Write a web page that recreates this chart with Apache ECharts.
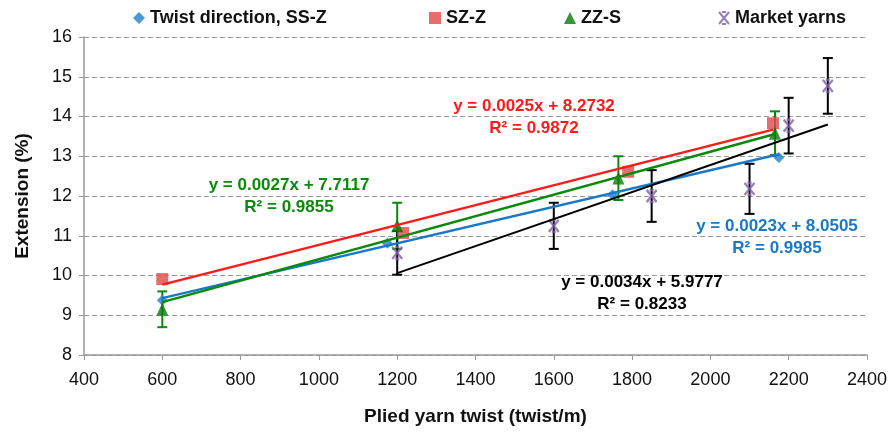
<!DOCTYPE html>
<html><head><meta charset="utf-8">
<script src="https://cdn.jsdelivr.net/npm/echarts@6/dist/echarts.min.js"></script>
<style>html,body{margin:0;padding:0;background:#fff}#c{width:890px;height:434px}</style>
</head><body><div id="c"></div>
<script>
// ---- data ----
const ssX = [600, 1175, 1750, 2175];
const ssY = [9.38, 10.81, 12.03, 12.97];
const szX = [600, 1215, 1790, 2160];
const szY = [9.91, 11.07, 12.61, 13.83];
const zzX = [600, 1200, 1765, 2165];
const zzY = [9.15, 11.25, 12.45, 13.58];
const zzErr = [0.45, 0.58, 0.55, 0.55];
const mX = [1200, 1600, 1850, 2100, 2200, 2300];
const mY = [10.57, 11.25, 12.0, 12.18, 13.77, 14.77];
const mErr = [0.55, 0.58, 0.65, 0.63, 0.7, 0.7];
// trendline endpoints [x0, y0, x1, y1]
const ssTrend = [600, 9.43, 2175, 13.05];
const szTrend = [600, 9.77, 2160, 13.67];
const zzTrend = [600, 9.33, 2165, 13.56];
const mTrend = [1200, 10.06, 2300, 13.80];
const seriesNames = ['Twist direction, SS-Z', 'SZ-Z', 'ZZ-S', 'Market yarns'];
const eqTexts = {
  sz: ['y = 0.0025x + 8.2732', 'R\u00b2 = 0.9872'],
  zz: ['y = 0.0027x + 7.7117', 'R\u00b2 = 0.9855'],
  ss: ['y = 0.0023x + 8.0505', 'R\u00b2 = 0.9985'],
  m:  ['y = 0.0034x + 5.9777', 'R\u00b2 = 0.8233']
};
const xMin = 400, xMax = 2400, xStep = 200;
const yMin = 8, yMax = 16, yStep = 1;

const FONT = '"Liberation Sans Narrow", "Liberation Sans", Arial, sans-serif';
const C = {blue:'#1a78c8', blueM:'#1f7fd0', red:'#ff1a1a', redM:'#e04848', green:'#0a8a0a', greenM:'#067a06', purple:'#7e5ea6', black:'#000'};

const zip = (xs, ys) => xs.map((x, i) => [x, ys[i]]);
const errData = (xs, ys, es) => xs.map((x, i) => [x, ys[i] - es[i], ys[i] + es[i]]);
const trend = t => [[t[0], t[1]], [t[2], t[3]]];

function errRender(color) {
  return function (params, api) {
    const lo = api.coord([api.value(0), api.value(1)]);
    const hi = api.coord([api.value(0), api.value(2)]);
    const w = 5;
    const st = {stroke: color, lineWidth: 2};
    return {type: 'group', children: [
      {type: 'line', shape: {x1: lo[0], y1: lo[1], x2: hi[0], y2: hi[1]}, style: st},
      {type: 'line', shape: {x1: lo[0] - w, y1: lo[1], x2: lo[0] + w, y2: lo[1]}, style: st},
      {type: 'line', shape: {x1: hi[0] - w, y1: hi[1], x2: hi[0] + w, y2: hi[1]}, style: st}
    ]};
  };
}

const xMarker = 'path://M0,0 L10,12 M10,0 L0,12 M3,0 L7,0 M3,12 L7,12';
const diamond = 'path://M5,0 L10,5 L5,10 L0,5 Z';

function eqGraphic(lines, cx, cy, color) {
  return lines.map((t, i) => ({
    type: 'text', x: cx, y: cy + i * 22, z: 100,
    style: {text: t, fill: color, font: 'bold 17px ' + FONT, textAlign: 'center', textVerticalAlign: 'middle'}
  }));
}

const legendLefts = [128, 424, 559, 713];
const legendText = {fontFamily: FONT, fontWeight: 'bold', fontSize: 18, color: '#111'};
const legends = seriesNames.map((n, i) => ({
  top: 4, left: legendLefts[i], itemWidth: 12, itemHeight: 12, itemGap: 4,
  data: [n], textStyle: legendText
}));

const chart = echarts.init(document.getElementById('c'), null, {renderer: 'canvas'});
chart.setOption({
  animation: false,
  backgroundColor: '#fff',
  grid: {left: 84, right: 23, top: 37, bottom: 79},
  legend: legends,
  xAxis: {
    type: 'value', min: xMin, max: xMax, interval: xStep,
    name: 'Plied yarn twist (twist/m)', nameLocation: 'middle', nameGap: 52,
    nameTextStyle: {fontFamily: FONT, fontWeight: 'bold', fontSize: 19, color: '#111'},
    axisLine: {lineStyle: {color: '#999', width: 1.5}},
    axisTick: {show: true, length: 5, lineStyle: {color: '#999'}},
    axisLabel: {fontFamily: FONT, fontSize: 18, color: '#111', margin: 16, formatter: v => String(v)},
    splitLine: {show: false}
  },
  yAxis: {
    type: 'value', min: yMin, max: yMax, interval: yStep,
    name: 'Extension (%)', nameLocation: 'middle', nameGap: 52, nameRotate: 90,
    nameTextStyle: {fontFamily: FONT, fontWeight: 'bold', fontSize: 19, color: '#111'},
    axisLine: {show: true, lineStyle: {color: '#999', width: 1.5}},
    axisTick: {show: true, length: 5, lineStyle: {color: '#999'}},
    axisLabel: {fontFamily: FONT, fontSize: 18, color: '#111', margin: 12},
    splitLine: {show: true, lineStyle: {color: '#9a9a9a', type: [5, 3], width: 1.2}}
  },
  series: [
    {name: seriesNames[0], type: 'scatter', data: zip(ssX, ssY), symbol: diamond, symbolSize: 11,
     itemStyle: {color: C.blueM}, z: 3},
    {name: seriesNames[1], type: 'scatter', data: zip(szX, szY), symbol: 'rect', symbolSize: 12,
     itemStyle: {color: C.redM}, z: 3},
    {name: seriesNames[2], type: 'scatter', data: zip(zzX, zzY), symbol: 'triangle', symbolSize: [12, 13],
     itemStyle: {color: C.greenM}, z: 4},
    {name: seriesNames[3], type: 'scatter', data: zip(mX, mY), symbol: xMarker, symbolSize: [10, 12],
     itemStyle: {color: 'rgba(0,0,0,0)', borderColor: C.purple, borderWidth: 2.4}, z: 4},
    {type: 'custom', renderItem: errRender(C.green), data: errData(zzX, zzY, zzErr), z: 3, silent: true},
    {type: 'custom', renderItem: errRender(C.black), data: errData(mX, mY, mErr), z: 3, silent: true},
    {type: 'line', data: trend(ssTrend), showSymbol: false, lineStyle: {color: C.blue, width: 2.5}, z: 5},
    {type: 'line', data: trend(zzTrend), showSymbol: false, lineStyle: {color: C.green, width: 2.5}, z: 5},
    {type: 'line', data: trend(szTrend), showSymbol: false, lineStyle: {color: C.red, width: 2.5}, z: 5},
    {type: 'line', data: trend(mTrend), showSymbol: false, lineStyle: {color: C.black, width: 2}, z: 5}
  ],
  graphic: [].concat(
    eqGraphic(eqTexts.sz, 534, 106, C.red),
    eqGraphic(eqTexts.zz, 289, 185, C.green),
    eqGraphic(eqTexts.ss, 777, 226, C.blue),
    eqGraphic(eqTexts.m, 642, 282, C.black)
  )
});
</script></body></html>
